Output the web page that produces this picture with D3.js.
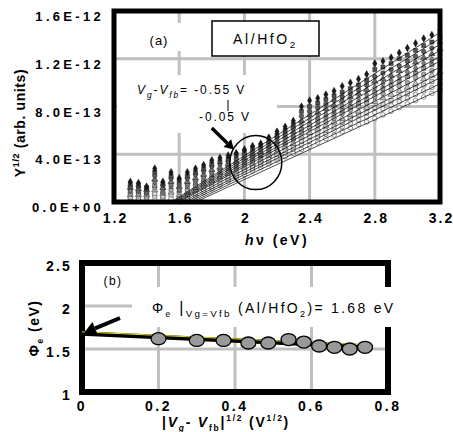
<!DOCTYPE html>
<html><head><meta charset="utf-8">
<script src="https://cdn.jsdelivr.net/npm/d3@7"></script>
<style>
body{margin:0;background:#fff;}
svg{display:block;font-family:Arial,"Liberation Sans",sans-serif;}
</style></head><body>
<svg id="c" width="453" height="432"></svg>
<script>
// ---------- panel (a) data : Y^1/2 in units of 1e-13 ----------
const photonEnergy = [1.30,1.35,1.40,1.45,1.50,1.55,1.60,1.65,1.70,1.75,1.80,1.85,1.90,1.95,2.00,2.05,2.10,2.15,2.20,2.25,2.30,2.35,2.40,2.45,2.50,2.55,2.60,2.65,2.70,2.75,2.80,2.85,2.90,2.95,3.00,3.05,3.10,3.15,3.20];
const biasLabels = ["-0.55","-0.50","-0.45","-0.40","-0.35","-0.30","-0.25","-0.20","-0.15","-0.10","-0.05"];
const yM055 = [1.7,1.6,1.3,2.8,1.7,2.5,2.0,2.5,2.8,3.1,3.5,3.7,3.9,4.1,4.4,4.7,4.9,5.4,5.9,6.3,6.8,8.0,8.5,8.7,9.0,9.3,9.7,10.0,10.3,10.7,11.6,11.8,12.1,12.5,12.9,13.3,13.7,14.0,14.4];
const yM050 = [1.5,1.4,1.2,2.5,1.5,2.2,1.8,2.2,2.5,2.8,3.2,3.4,3.6,3.9,4.2,4.5,4.7,5.1,5.6,6.0,6.5,7.6,8.0,8.3,8.6,8.9,9.2,9.5,9.8,10.2,11.1,11.3,11.6,12.0,12.3,12.7,13.1,13.4,13.8];
const yM045 = [1.3,1.3,1.1,2.2,1.4,2.0,1.5,2.0,2.3,2.6,3.0,3.2,3.4,3.6,3.9,4.2,4.4,4.9,5.4,5.7,6.2,7.2,7.6,7.9,8.2,8.5,8.8,9.1,9.4,9.8,10.5,10.8,11.1,11.4,11.8,12.2,12.6,12.9,13.3];
const yM040 = [1.2,1.1,1.0,1.9,1.2,1.7,1.3,1.7,2.0,2.3,2.7,2.9,3.2,3.4,3.7,4.0,4.2,4.7,5.1,5.5,5.9,6.8,7.3,7.5,7.8,8.1,8.5,8.8,9.1,9.4,10.1,10.3,10.6,11.0,11.4,11.7,12.1,12.4,12.8];
const yM035 = [1.0,1.0,0.9,1.7,1.1,1.5,1.1,1.5,1.8,2.1,2.5,2.7,3.0,3.2,3.5,3.8,4.0,4.5,4.9,5.2,5.6,6.5,6.9,7.1,7.4,7.7,8.1,8.4,8.7,9.0,9.6,9.9,10.2,10.5,10.9,11.2,11.6,11.9,12.3];
const yM030 = [0.9,0.9,0.8,1.4,0.9,1.3,1.0,1.3,1.6,1.9,2.3,2.5,2.8,3.0,3.3,3.6,3.9,4.3,4.7,5.0,5.4,6.1,6.5,6.8,7.1,7.4,7.7,8.0,8.3,8.6,9.2,9.5,9.8,10.1,10.5,10.8,11.2,11.5,11.8];
const yM025 = [0.7,0.7,0.7,1.2,0.8,1.0,0.8,1.0,1.4,1.7,2.0,2.3,2.6,2.8,3.1,3.4,3.7,4.1,4.4,4.8,5.2,5.8,6.2,6.4,6.7,7.0,7.4,7.7,8.0,8.3,8.8,9.1,9.4,9.7,10.0,10.4,10.7,11.0,11.4];
const yM020 = [0.6,0.6,0.6,1.0,0.7,0.8,0.6,0.8,1.2,1.5,1.8,2.1,2.4,2.6,2.9,3.2,3.5,3.9,4.2,4.6,4.9,5.5,5.8,6.1,6.4,6.7,7.0,7.3,7.6,7.9,8.4,8.7,9.0,9.3,9.6,9.9,10.3,10.6,10.9];
const yM015 = [0.4,0.5,0.5,0.7,0.5,0.6,0.4,0.6,1.0,1.3,1.6,1.9,2.1,2.4,2.7,3.0,3.3,3.6,4.0,4.3,4.6,5.1,5.5,5.7,6.0,6.3,6.7,7.0,7.3,7.5,7.9,8.2,8.5,8.8,9.1,9.5,9.8,10.1,10.4];
const yM010 = [0.3,0.3,0.4,0.5,0.4,0.3,0.2,0.3,0.7,1.0,1.3,1.6,1.9,2.2,2.5,2.8,3.1,3.4,3.7,4.1,4.4,4.8,5.1,5.4,5.7,6.0,6.3,6.6,6.9,7.1,7.5,7.8,8.1,8.4,8.7,9.0,9.3,9.6,9.9];
const yM005 = [0.1,0.2,0.3,0.2,0.2,0.1,0.0,0.1,0.5,0.8,1.1,1.4,1.7,2.0,2.3,2.6,2.9,3.2,3.5,3.8,4.1,4.4,4.7,5.0,5.3,5.6,5.9,6.2,6.5,6.7,7.0,7.3,7.6,7.9,8.2,8.5,8.8,9.1,9.4];
// linear fits: onset energy (eV) and value at 3.2 eV
const fitOnset = [1.55,1.56,1.57,1.58,1.59,1.60,1.62,1.64,1.66,1.68,1.70];
const fitEnd = [14.2,13.7,13.2,12.7,12.2,11.8,11.3,10.8,10.4,9.9,9.4];
const topXTicks = [1.2,1.6,2.0,2.4,2.8,3.2];
const topXLabels = ["1.2","1.6","2","2.4","2.8","3.2"];
const topYTicks = [0,4,8,12,16];
const topYLabels = ["0.0E+00","4.0E-13","8.0E-13","1.2E-12","1.6E-12"];

// ---------- panel (b) data ----------
const sqrtBias = [0.20,0.30,0.37,0.435,0.487,0.54,0.58,0.62,0.66,0.70,0.74];
const phiE = [1.62,1.60,1.60,1.57,1.57,1.61,1.58,1.535,1.52,1.50,1.52];
const fitBX = [0,0.74];
const fitBY = [1.68,1.53];
const botXTicks = [0,0.2,0.4,0.6,0.8];
const botXLabels = ["0","0.2","0.4","0.6","0.8"];
const botYTicks = [1,1.5,2,2.5];
const botYLabels = ["1","1.5","2","2.5"];

// ---------- drawing ----------
const svg = d3.select("#c");
const GRID = "#c0c0c0";

function rich(t, parts, fs){
  let cur = 0;
  parts.forEach(p=>{
    const off = p.sub ? fs*0.3 : (p.sup ? -fs*0.4 : 0);
    const ts = t.append("tspan").attr("dy", off-cur).text(p.t);
    cur = off;
    if(p.sub||p.sup) ts.attr("font-size", fs*(p.scale||0.7));
    if(p.it) ts.attr("font-style","italic");
    if(p.fs) ts.attr("font-size", p.fs);
  });
}
function arrow(g, x1,y1,x2,y2,w,hl,hw){
  const a = Math.atan2(y2-y1,x2-x1), c=Math.cos(a), s=Math.sin(a);
  const bx = x2 - hl*c, by = y2 - hl*s;
  g.append("line").attr("x1",x1).attr("y1",y1).attr("x2",bx).attr("y2",by)
    .attr("stroke","#000").attr("stroke-width",w);
  g.append("path").attr("d",`M${x2},${y2}L${bx - hw*s},${by + hw*c}L${bx + hw*s},${by - hw*c}Z`).attr("fill","#000");
}
function grid(g, xs, ys, xScale, yScale, x0, x1, y0, y1){
  const d = xs.map(v=>`M${xScale(v)},${yScale(y1)}V${yScale(y0)}`).join("") +
            ys.map(v=>`M${xScale(x0)},${yScale(v)}H${xScale(x1)}`).join("");
  g.append("path").attr("d", d).style("stroke", GRID).style("stroke-width", "3px").style("fill","none");
}

// ===== Panel (a) =====
const xA = d3.scaleLinear().domain([1.2,3.2]).range([114,440]);
const yA = d3.scaleLinear().domain([0,16]).range([202,11]);
const gA = svg.append("g");
grid(gA, topXTicks.slice(1,-1), topYTicks.slice(1,-1), xA, yA, 1.2, 3.2, 0, 16);
gA.append("rect").attr("x",140).attr("y",23).attr("width",45).attr("height",28).attr("fill","#fff");
gA.append("rect").attr("x",117).attr("y",75).attr("width",160).attr("height",58).attr("fill","#fff");
gA.append("rect").attr("x",212).attr("y",21).attr("width",107).attr("height",35).attr("fill","#fff").attr("stroke","#000").attr("stroke-width",1.5);

const seriesVals = [yM055,yM050,yM045,yM040,yM035,yM030,yM025,yM020,yM015,yM010,yM005];
const symTypes = [d3.symbolDiamond,d3.symbolSquare,d3.symbolCircle,d3.symbolTriangle,d3.symbolDiamond,d3.symbolSquare,d3.symbolCircle,d3.symbolTriangle,d3.symbolSquare,d3.symbolCircle,d3.symbolCircle];
const fills = ["#1a1a1a","#505050","#5e5e5e","#6e6e6e","#828282","#969696","#acacac","#c4c4c4","#dcdcdc","#eeeeee","#fff"];
const clip = gA.append("clipPath").attr("id","clipA");
clip.append("rect").attr("x",110).attr("y",8).attr("width",335).attr("height",198);
const dataG = gA.append("g").attr("clip-path","url(#clipA)");
for(let i=seriesVals.length-1;i>=0;i--){
  const sym = d3.symbol().type(symTypes[i]).size(symTypes[i]===d3.symbolDiamond?16:17);
  dataG.append("g").selectAll("path").data(seriesVals[i].map((v,j)=>[photonEnergy[j],v])).join("path")
    .attr("d",sym).attr("transform",d=>`translate(${xA(d[0])},${yA(d[1])})`)
    .attr("fill",fills[i]).attr("stroke","#000").attr("stroke-width",0.4);
}
dataG.append("g").selectAll("line").data(fitOnset.map((e,i)=>[e,fitEnd[i]])).join("line")
  .attr("x1",d=>xA(d[0])).attr("y1",yA(0)).attr("x2",xA(3.2)).attr("y2",d=>yA(d[1]))
  .attr("stroke","#000").attr("stroke-width",0.7);
gA.append("ellipse").attr("cx",xA(2.07)).attr("cy",yA(3.3)).attr("rx",26).attr("ry",27)
  .attr("fill","none").attr("stroke","#000").attr("stroke-width",1.5);
arrow(gA, xA(1.80), yA(6.2), xA(1.935), yA(4.4), 3.5, 9, 5.5);
gA.append("text").attr("x",159).attr("y",45).attr("text-anchor","middle").attr("font-size",13).attr("letter-spacing",1).text("(a)");
const tAl = gA.append("text").attr("x",233).attr("y",44).attr("font-size",14).attr("letter-spacing",2.6);
rich(tAl,[{t:"Al/HfO"},{t:"2",sub:true}],14);
const tVg = gA.append("text").attr("x",137).attr("y",94).attr("font-size",12).attr("letter-spacing",1.9);
rich(tVg,[{t:"V",it:true},{t:"g",sub:true,it:true},{t:"-"},{t:"V",it:true},{t:"fb",sub:true,it:true},{t:"= -0.55 V"}],12);
gA.append("line").attr("x1",228).attr("x2",228).attr("y1",100).attr("y2",111).attr("stroke","#000").attr("stroke-width",1);
gA.append("text").attr("x",199).attr("y",121).attr("font-size",12).attr("letter-spacing",1.9).text("-0.05 V");
const axXA = gA.append("g").attr("transform",`translate(0,${yA(0)})`)
  .call(d3.axisBottom(xA).tickValues(topXTicks).tickFormat((d,i)=>topXLabels[i]).tickSize(0));
axXA.select(".domain").remove();
axXA.selectAll("text").attr("y",21).attr("dy",null).attr("dx",1).attr("font-size",14).attr("font-weight","bold")
  .attr("letter-spacing",2).attr("fill","#000").attr("font-family","Arial, 'Liberation Sans', sans-serif");
const axYA = gA.append("g").attr("transform",`translate(${xA(1.2)},0)`)
  .call(d3.axisLeft(yA).tickValues(topYTicks).tickFormat((d,i)=>topYLabels[i]).tickSize(0));
axYA.select(".domain").remove();
axYA.selectAll("text").attr("x",-10).attr("dy","9.5").attr("font-size",13).attr("font-weight","bold")
  .attr("letter-spacing",3.3).attr("fill","#000").attr("font-family","Arial, 'Liberation Sans', sans-serif");
gA.append("rect").attr("x",xA(1.2)).attr("y",yA(16)).attr("width",xA(3.2)-xA(1.2)).attr("height",yA(0)-yA(16))
  .attr("fill","none").attr("stroke","#000").attr("stroke-width",5);
const tHv = svg.append("text").attr("x",277).attr("y",245).attr("text-anchor","middle").attr("font-size",14).attr("font-weight","bold").attr("letter-spacing",2.5);
rich(tHv,[{t:"h",it:true},{t:"ν (eV)"}],14);
const tY = svg.append("text").attr("transform","translate(25,123) rotate(-90)").attr("text-anchor","middle").attr("font-size",14).attr("font-weight","bold").attr("letter-spacing",0.6);
rich(tY,[{t:"Y"},{t:"1/2",sup:true,scale:0.65},{t:" (arb. units)"}],14);

// ===== Panel (b) =====
const xB = d3.scaleLinear().domain([0,0.8]).range([82,388]);
const yB = d3.scaleLinear().domain([1,2.5]).range([392,263]);
const gB = svg.append("g");
grid(gB, botXTicks.slice(1,-1), botYTicks.slice(1,-1), xB, yB, 0, 0.8, 1, 2.5);
gB.append("rect").attr("x",xB(0)).attr("y",yB(2.5)).attr("width",xB(0.8)-xB(0)).attr("height",yB(1)-yB(2.5))
  .attr("fill","none").attr("stroke","#000").attr("stroke-width",6);
gB.append("rect").attr("x",132).attr("y",287).attr("width",273).attr("height",40).attr("fill","#fff");
const tPhi = gB.append("text").attr("x",152).attr("y",313).attr("font-size",14).attr("letter-spacing",2.3);
rich(tPhi,[{t:"Φ"},{t:"e",sub:true,scale:0.6},{t:" |",fs:16},{t:"Vg=Vfb",sub:true,scale:0.7},{t:" (Al/HfO"},{t:"2",sub:true,scale:0.65},{t:")= 1.68 eV"}],14);
gB.append("line").attr("x1",xB(fitBX[0])).attr("y1",yB(fitBY[0])).attr("x2",xB(fitBX[1])).attr("y2",yB(fitBY[1]))
  .attr("stroke","#000").attr("stroke-width",4.5);
gB.append("line").attr("x1",xB(fitBX[0])).attr("y1",yB(fitBY[0])-1.6).attr("x2",xB(fitBX[1])).attr("y2",yB(fitBY[1])-1.6)
  .attr("stroke","#e8e000").attr("stroke-width",1);
gB.append("g").selectAll("ellipse").data(sqrtBias.map((x,i)=>[x,phiE[i]])).join("ellipse")
  .attr("cx",d=>xB(d[0])).attr("cy",d=>yB(d[1])).attr("rx",7.5).attr("ry",6)
  .attr("fill","#999").attr("stroke","#000").attr("stroke-width",1.3);
arrow(gB, 120, 318, 84, 333, 4, 12, 7);
gB.append("text").attr("x",113).attr("y",285).attr("text-anchor","middle").attr("font-size",12).attr("letter-spacing",1.5).text("(b)");
const axXB = gB.append("g").attr("transform",`translate(0,${yB(1)})`)
  .call(d3.axisBottom(xB).tickValues(botXTicks).tickFormat((d,i)=>botXLabels[i]).tickSize(0));
axXB.select(".domain").remove();
axXB.selectAll("text").attr("y",19).attr("dy",null).attr("dx",-0.5).attr("font-size",14).attr("font-weight","bold")
  .attr("letter-spacing",2.5).attr("fill","#000").attr("font-family","Arial, 'Liberation Sans', sans-serif");
const axYB = gB.append("g").attr("transform",`translate(${xB(0)},0)`)
  .call(d3.axisLeft(yB).tickValues(botYTicks).tickFormat((d,i)=>botYLabels[i]).tickSize(0));
axYB.select(".domain").remove();
axYB.selectAll("text").attr("x",-10).attr("dy","7.5").attr("font-size",14).attr("font-weight","bold")
  .attr("letter-spacing",2.2).attr("fill","#000").attr("font-family","Arial, 'Liberation Sans', sans-serif");
const tXB = svg.append("text").attr("x",226).attr("y",427).attr("text-anchor","middle").attr("font-size",14).attr("font-weight","bold").attr("letter-spacing",1.8);
rich(tXB,[{t:"|"},{t:"V",it:true},{t:"g",sub:true,it:true,scale:0.6},{t:"- "},{t:"V",it:true},{t:"fb",sub:true,scale:0.6},{t:"|"},{t:"1/2",sup:true,scale:0.6},{t:" (V"},{t:"1/2",sup:true,scale:0.6},{t:")"}],14);
const tYB = svg.append("text").attr("transform","translate(39,328) rotate(-90)").attr("text-anchor","middle").attr("font-size",14).attr("font-weight","bold").attr("letter-spacing",1.5);
rich(tYB,[{t:"Φ"},{t:"e",sub:true,scale:0.6},{t:" (eV)"}],14);
</script>
</body></html>
